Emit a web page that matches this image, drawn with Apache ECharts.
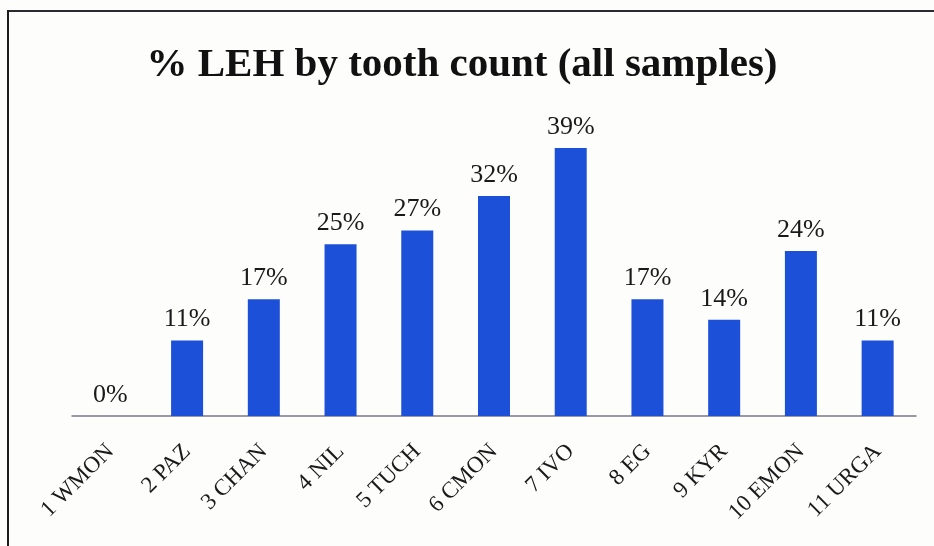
<!DOCTYPE html>
<html>
<head>
<meta charset="utf-8">
<script src="https://cdn.jsdelivr.net/npm/echarts@6/dist/echarts.min.js"></script>
<style>
  html, body { margin: 0; padding: 0; background: #fdfdfc; }
  #chart { width: 934px; height: 546px; }
</style>
</head>
<body>
<div id="chart"></div>
<script>
// Share of teeth with linear enamel hypoplasia, per sample
const categories = ['1 WMON', '2 PAZ', '3 CHAN', '4 NIL', '5 TUCH', '6 CMON',
                    '7 IVO', '8 EG', '9 KYR', '10 EMON', '11 URGA'];
const lehPercent = [0, 11, 17, 25, 27, 32, 39, 17, 14, 24, 11];
const titleText = '% LEH by tooth count (all samples)';

const chart = echarts.init(document.getElementById('chart'));
chart.setOption({
  backgroundColor: '#fdfdfc',
  animation: false,
  title: {
    text: titleText,
    left: 457,
    top: 40,
    textAlign: 'center',
    textStyle: {
      fontFamily: 'Liberation Serif',
      fontWeight: 'bold',
      fontSize: 41,
      color: '#111'
    }
  },
  graphic: [
    { type: 'line', shape: { x1: 8, y1: 11, x2: 934, y2: 11 },
      style: { stroke: '#2a2a30', lineWidth: 2 } },
    { type: 'line', shape: { x1: 8, y1: 10, x2: 8, y2: 546 },
      style: { stroke: '#1c1c1c', lineWidth: 2 } }
  ],
  grid: { left: 72, right: 18, top: 141, bottom: 130 },
  xAxis: {
    type: 'category',
    data: categories,
    axisLine: { lineStyle: { color: '#7c7688', width: 1.5 } },
    axisTick: { show: false },
    axisLabel: {
      rotate: 45,
      margin: 32,
      interval: 0,
      fontFamily: 'Liberation Serif',
      fontSize: 23,
      color: '#1a1a1a'
    }
  },
  yAxis: {
    type: 'value',
    min: 0,
    max: 40,
    show: false,
    splitLine: { show: false }
  },
  series: [{
    type: 'bar',
    data: lehPercent,
    barWidth: 32,
    itemStyle: { color: '#1c50d8' },
    label: {
      show: true,
      position: 'top',
      distance: 8,
      formatter: p => p.value + '%',
      fontFamily: 'Liberation Serif',
      fontSize: 26,
      color: '#1a1a1a'
    }
  }]
});
</script>
</body>
</html>
